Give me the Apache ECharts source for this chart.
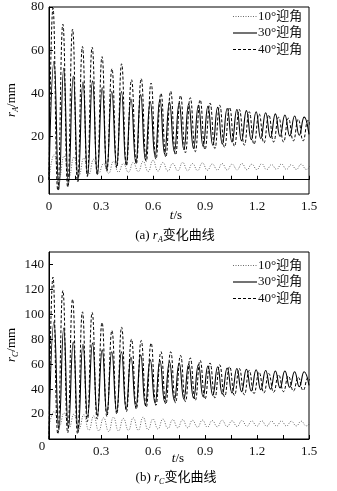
<!DOCTYPE html>
<html><head><meta charset="utf-8">
<script src="https://cdn.jsdelivr.net/npm/echarts@6/dist/echarts.min.js"></script>
<style>html,body{margin:0;padding:0;background:#fff}#c{width:337px;height:491px}</style>
</head><body><div id="c"></div><script>
// legend names
const names = ['10°迎角', '30°迎角', '40°迎角'];
// tick labels
const xTicks = [0, 0.3, 0.6, 0.9, 1.2, 1.5];
const yTicksA = [0, 20, 40, 60, 80];
const yTicksC = [0, 20, 40, 60, 80, 100, 120, 140];

// turning-point times (s)
const tPeak10 = [0.030,0.087,0.144,0.201,0.258,0.315,0.372,0.429,0.486,0.543,0.600,0.657,0.714,0.771,0.828,0.885,0.942,0.999,1.056,1.113,1.170,1.227,1.284,1.341,1.398,1.455,1.512];
const tTrough10 = [0.059,0.116,0.173,0.230,0.287,0.344,0.401,0.458,0.515,0.572,0.629,0.686,0.743,0.800,0.857,0.914,0.971,1.028,1.085,1.142,1.199,1.256,1.313,1.370,1.427,1.484];
const tPeak30 = [0.029,0.085,0.140,0.196,0.251,0.307,0.362,0.418,0.473,0.529,0.584,0.640,0.695,0.751,0.806,0.862,0.917,0.973,1.028,1.084,1.139,1.195,1.250,1.306,1.361,1.417,1.472];
const tTrough30 = [0.057,0.112,0.168,0.223,0.279,0.334,0.390,0.445,0.501,0.556,0.612,0.667,0.723,0.778,0.834,0.889,0.945,1.000,1.056,1.111,1.167,1.222,1.278,1.333,1.389,1.444,1.500];
const tPeak40 = [0.023,0.080,0.136,0.193,0.249,0.306,0.363,0.419,0.476,0.532,0.589,0.646,0.702,0.759,0.815,0.872,0.929,0.985,1.042,1.098,1.155,1.212,1.268,1.325,1.381,1.438,1.494];
const tTrough40 = [0.051,0.108,0.165,0.221,0.278,0.334,0.391,0.447,0.504,0.561,0.617,0.674,0.730,0.787,0.844,0.900,0.957,1.013,1.070,1.127,1.183,1.240,1.296,1.353,1.410,1.466,1.523];

// (a) r_A (mm): peak and trough values
const rA10Peak = [11.6,11,10.5,10,9.5,7.5,8.5,7.5,8,8.5,9,8,7.5,8,7.5,7.8,7.3,7.5,7.2,7.5,7.2,7.4,7,7.3,7,7.2,7];
const rA10Trough = [1,1.5,2,2.5,3,3,3.5,3.5,3.8,3.8,4,4,4.2,4.2,4.3,4.4,4.5,4.5,4.6,4.6,4.7,4.7,4.8,4.8,4.8,4.8];
const rA30Peak = [54.8,51.7,48,45.2,45.8,42.7,40.9,40.9,37.4,39.4,36.2,37.4,36,35.5,35,34.5,34,33.5,33,32.5,32,31.5,31,30.5,30,29.5,29];
const rA30Trough = [-4.6,-2.3,-0.5,1.9,2.5,4.6,6.2,7,7.8,9.2,10.8,12,13,14,14.5,15.5,16,16.5,17.5,18,18.5,19,19.5,20,20.3,20.6,21];
const rA40Peak = [79.5,72,69.7,61.7,61.4,57,51.4,53.7,46.3,46.8,44.8,40,41,39,38,37,35.5,34.5,33.5,32.5,31.5,30.5,30,29,28.5,28,27.5];
const rA40Trough = [-5,-3.5,-1,1.5,2.5,4,5.5,6.5,7.5,8.5,9.5,10.5,11.5,12.5,13,14,14.5,15,15.5,16,16.5,17,17.5,17.5,18,18,18];

// (b) r_C (mm): peak and trough values
const rC10Peak = [22,21,20,19.5,18.5,17,17.5,16.5,17,17.5,16,16,15.5,15.5,15,15.2,14.8,15,14.6,14.8,14.5,14.6,14.3,14.5,14.2,14.3,14.2];
const rC10Trough = [10,9,8,7,6.5,6,6.5,7,7,7.5,8,8.5,9,9,9.5,9.5,9.8,10,10,10.2,10.2,10.3,10.4,10.4,10.5,10.5];
const rC30Peak = [94,89,78,76,77,71.5,70,70,65.6,67.5,63.5,63,62,61,60,59.5,58.5,58,57,56.5,56,55.5,55,54.5,54.5,54,54];
const rC30Trough = [7.2,8.6,6,18,19,20.6,22,24,25.5,27,28.7,30,31,32,33,34,35,36,37,38,38.5,39.5,40,41,41.5,42,43];
const rC40Peak = [129.9,119,112,102,101.5,93.4,87,89.7,80,79,76.9,70,70,67,65,63,61,59.5,58,56.5,55,53.5,52.5,51.5,50.5,49.5,49];
const rC40Trough = [4,5,4,14,16,18,20,22,24,25.5,27,28,29,30,31,32,33,34,35,35.5,36.5,37,37.5,38,38.5,39,39];

function build(v0, tp, vp, tt, vt) {
  const pts = [[0, v0]];
  tp.forEach((t, i) => pts.push([t, vp[i]]));
  tt.forEach((t, i) => pts.push([t, vt[i]]));
  pts.sort((a, b) => a[0] - b[0]);
  return pts;
}

const F = "'Liberation Serif','Noto Sans CJK SC',serif";
const FC = "'Liberation Serif','Noto Sans CJK SC',serif";

const styles = [
  { color: '#444', width: 0.8, type: [1, 1.5] },
  { color: '#000', width: 1.1, type: 'solid' },
  { color: '#000', width: 1, type: [3, 2] }
];

function xAxis(gi) {
  return {
    gridIndex: gi, type: 'value', min: 0, max: 1.5, interval: 0.3,
    axisLine: { show: true, lineStyle: { color: '#000', width: 1 } },
    axisTick: { show: true, inside: true, length: 4, lineStyle: { color: '#000' } },
    minorTick: { show: true, splitNumber: 2, length: 4, lineStyle: { color: '#000' } },
    splitLine: { show: false },
    axisLabel: {
      color: '#111', fontFamily: F, fontSize: 13, margin: 6,
      showMinLabel: gi === 0
    }
  };
}
function yAxis(gi, min, max, ticks) {
  return {
    gridIndex: gi, type: 'value', min: min, max: max,
    axisLine: { show: true, lineStyle: { color: '#000', width: 1 } },
    axisTick: { show: true, inside: true, length: 4, customValues: ticks, lineStyle: { color: '#000' } },
    splitLine: { show: false },
    axisLabel: { color: '#111', fontFamily: F, fontSize: 13, margin: 5, customValues: gi === 1 ? ticks.slice(1) : ticks }
  };
}

const series = [];
const sets = [
  [0, [[0, tPeak10, rA10Peak, tTrough10, rA10Trough], [0, tPeak30, rA30Peak, tTrough30, rA30Trough], [0, tPeak40, rA40Peak, tTrough40, rA40Trough]]],
  [1, [[10, tPeak10, rC10Peak, tTrough10, rC10Trough], [0, tPeak30, rC30Peak, tTrough30, rC30Trough], [0, tPeak40, rC40Peak, tTrough40, rC40Trough]]]
];
sets.forEach(([gi, arr]) => {
  arr.forEach((a, k) => {
    series.push({
      name: names[k], type: 'line', xAxisIndex: gi, yAxisIndex: gi,
      data: build(a[0], a[1], a[2], a[3], a[4]),
      showSymbol: false, smooth: 0.5, clip: true, animation: false,
      lineStyle: { color: styles[k].color, width: styles[k].width, type: styles[k].type },
      z: k === 0 ? 3 : (k === 1 ? 2 : 4)
    });
  });
});

const graphic = [];
function legendBlock(y0) {
  const ys = [y0, y0 + 16.5, y0 + 33];
  ys.forEach((y, k) => {
    graphic.push({ type: 'line', shape: { x1: 233, y1: y, x2: 257, y2: y },
      style: { stroke: styles[k].color, lineWidth: styles[k].width, lineDash: styles[k].type === 'solid' ? null : styles[k].type } });
    graphic.push({ type: 'text', x: 258, y: y, style: { text: names[k], font: "13px " + FC, fill: '#111', align: 'left', verticalAlign: 'middle' } });
  });
}
legendBlock(16.5);
legendBlock(265.5);

const sub = {
  i: { fontFamily: F, fontStyle: 'italic', fontSize: 13, color: '#111', lineHeight: 16 },
  s: { fontFamily: F, fontStyle: 'italic', fontSize: 8, color: '#111', lineHeight: 8, padding: [8, 0, 0, 0] },
  n: { fontFamily: FC, fontSize: 13, color: '#111', lineHeight: 16 }
};
function yName(x, y, letter) {
  graphic.push({ type: 'text', x: x, y: y, rotation: Math.PI / 2,
    style: { text: '{i|r}{s|' + letter + '}{n|/mm}', rich: sub, align: 'center', verticalAlign: 'middle' } });
}
yName(12, 100, 'A');
yName(12, 345, 'C');
function xName(x, y) {
  graphic.push({ type: 'text', x: x, y: y,
    style: { text: '{i|t}{n|/s}', rich: sub, align: 'center', verticalAlign: 'middle' } });
}
xName(176, 216);
xName(178, 459);
function caption(x, y, tag, letter) {
  graphic.push({ type: 'text', x: x, y: y,
    style: { text: '{n|(' + tag + ') }{i|r}{s|' + letter + '}{n|变化曲线}', rich: sub, align: 'center', verticalAlign: 'middle' } });
}
caption(175, 236, 'a', 'A');
caption(176, 478, 'b', 'C');
// shared origin label of panel (b)
graphic.push({ type: 'text', x: 42, y: 447, style: { text: String(xTicks[0]), font: "13px " + F, fill: '#111', align: 'center', verticalAlign: 'middle' } });

const chart = echarts.init(document.getElementById('c'), null, { renderer: 'canvas' });
chart.setOption({
  animation: false,
  backgroundColor: '#fff',
  grid: [
    { left: 49, top: 7, right: 28, height: 187, show: true, borderColor: '#000', borderWidth: 1, backgroundColor: 'transparent' },
    { left: 49, top: 252, right: 28, height: 187, show: true, borderColor: '#000', borderWidth: 1, backgroundColor: 'transparent' }
  ],
  xAxis: [xAxis(0), xAxis(1)],
  yAxis: [yAxis(0, -6.6, 80, yTicksA), yAxis(1, 0, 150, yTicksC)],
  series: series,
  graphic: graphic
});
</script></body></html>
